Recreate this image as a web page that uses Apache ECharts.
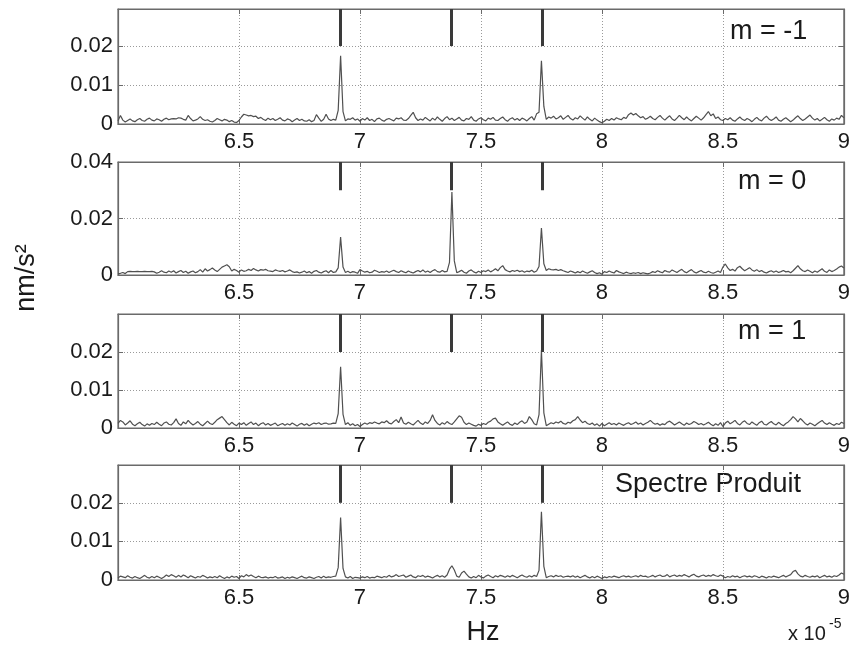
<!DOCTYPE html>
<html>
<head>
<meta charset="utf-8">
<script src="https://cdn.jsdelivr.net/npm/echarts@6/dist/echarts.min.js"></script>
<style>
html,body{margin:0;padding:0;background:#fff;}
#chart{width:853px;height:645px;}
</style>
</head>
<body>
<div id="chart"></div>
<script>
// Frequency grid (units of 1e-5 Hz): sampling from 6.00 in steps of 0.01 (301 samples)
const freqStart = 6.0;
const freqStep = 0.01;

// Amplitudes in units of 1e-3 nm/s^2
const specMminus1 = [
0.8,2.2,1.0,0.5,0.9,1.3,0.8,0.6,1.1,1.4,
0.9,0.7,1.2,1.5,1.0,0.8,1.3,1.1,0.7,1.2,
1.5,1.1,1.3,1.4,1.3,1.6,1.5,1.2,1.0,2.2,
1.4,0.8,1.0,1.3,1.9,1.2,0.9,1.1,0.7,0.5,
0.9,1.4,1.1,0.8,1.2,1.0,0.6,0.9,0.5,0.4,
0.9,1.8,2.5,2.3,2.1,2.2,1.9,2.0,1.4,1.7,
1.2,0.9,1.5,1.1,1.4,0.9,1.2,1.6,1.0,0.8,
1.3,1.1,0.6,1.0,1.4,0.9,1.2,0.8,0.7,1.1,
0.6,0.9,2.4,1.5,0.7,1.2,2.5,1.3,0.9,1.2,
1.0,3.5,17.5,3.2,0.8,1.3,1.2,1.6,1.0,1.3,
0.7,1.4,1.0,1.6,0.9,1.2,0.6,1.3,1.5,1.0,
0.7,1.2,1.4,1.1,0.8,1.5,1.3,1.6,1.0,0.9,
1.4,2.2,3.0,1.6,0.9,1.3,1.0,1.7,1.2,0.8,
1.5,1.0,1.8,1.2,0.7,1.4,1.9,1.1,1.5,0.9,
1.3,1.7,1.0,0.8,1.4,1.2,1.9,1.0,0.7,1.3,
1.6,1.1,0.8,1.5,1.2,1.7,1.0,0.9,1.4,1.8,
1.1,0.7,1.3,1.6,1.0,1.4,0.9,1.5,1.2,0.8,
1.4,1.9,1.0,2.6,3.0,16.2,4.5,1.2,1.8,1.5,
2.0,1.3,1.6,2.1,1.2,1.7,2.2,1.4,1.0,1.6,
1.3,2.1,1.5,1.0,1.8,1.2,0.8,1.5,1.0,0.6,
0.3,0.7,1.2,0.9,1.4,1.0,1.6,1.3,1.1,1.7,
1.4,2.4,2.8,2.3,2.7,2.1,1.6,1.9,1.2,1.5,
2.0,1.4,1.1,1.7,2.2,1.5,1.0,1.6,2.1,1.3,
0.9,1.5,2.2,1.6,1.1,1.8,1.2,0.8,1.4,2.0,
1.5,1.0,1.6,2.4,3.2,2.1,2.6,1.4,1.8,1.1,
0.9,1.4,1.1,1.6,1.0,0.7,1.3,1.8,1.2,0.9,
1.4,1.1,0.6,1.2,1.7,1.1,0.8,1.5,2.0,1.3,
0.9,1.3,1.8,1.0,0.7,1.2,1.6,1.1,0.6,1.0,
1.6,2.1,1.4,0.9,1.3,1.8,2.3,1.5,1.0,1.4,
0.8,1.2,1.7,1.1,0.7,1.3,1.0,1.5,1.2,2.2,
1.6];

const specM0 = [
0.4,0.6,0.9,0.5,1.2,1.3,1.2,1.2,1.3,1.2,
1.2,1.3,1.2,1.2,1.3,1.1,0.6,1.0,1.5,1.0,
0.8,1.4,1.0,1.5,0.7,1.2,1.6,0.9,1.3,0.6,
1.1,1.4,0.8,1.2,1.9,1.0,2.2,1.4,1.9,2.5,
1.8,1.2,2.0,2.8,3.2,3.6,2.9,1.4,2.0,1.6,
1.0,1.8,1.3,1.5,2.0,1.6,2.3,1.8,1.4,1.9,
1.7,2.0,1.5,1.4,1.2,1.8,1.5,1.3,1.6,1.1,
1.4,1.8,1.2,0.9,1.1,0.7,1.0,1.4,0.8,1.2,
0.6,1.3,1.6,1.0,0.7,1.2,1.5,0.8,1.6,0.9,
1.1,2.5,13.4,2.8,0.9,1.3,0.8,1.2,1.0,0.6,
1.9,1.4,1.0,1.3,0.8,1.0,1.7,1.3,0.9,1.2,
1.0,1.4,0.9,1.3,1.7,1.2,0.9,1.5,1.1,0.8,
1.4,1.0,0.7,1.2,1.6,1.1,1.8,1.0,1.4,0.9,
1.5,1.9,1.2,1.0,1.6,1.1,1.3,4.5,29.4,5.0,
0.8,1.2,1.7,1.0,0.6,1.4,1.8,1.1,0.7,1.3,
0.9,1.5,1.2,1.8,1.1,1.6,2.2,1.5,2.6,3.3,
1.9,1.4,1.1,1.6,1.3,1.7,1.2,1.5,1.0,1.4,
1.2,1.7,1.0,1.4,3.0,16.6,4.0,1.6,2.2,1.9,
1.8,2.0,1.6,1.9,1.5,1.2,0.9,1.4,1.1,0.7,
1.2,0.8,1.4,1.0,0.6,1.1,1.5,0.9,0.5,0.8,
0.3,1.2,0.9,1.4,1.0,0.7,1.6,1.1,0.8,0.5,
1.0,0.7,0.5,0.8,0.6,0.9,0.5,0.8,0.6,0.4,
0.7,1.2,0.9,1.5,1.1,0.8,1.6,1.2,1.0,1.8,
1.3,0.9,1.5,2.0,1.2,0.8,1.4,1.9,1.1,0.7,
1.2,1.6,1.0,0.8,1.3,0.9,0.6,1.0,1.4,0.9,
2.8,3.9,2.5,1.6,2.0,1.4,2.6,3.1,2.2,1.5,
2.0,2.6,1.8,1.3,1.9,1.2,1.6,1.0,0.7,1.2,
1.5,1.0,1.4,0.9,1.2,1.6,1.1,1.3,0.8,1.5,
2.4,3.3,2.2,1.5,1.2,1.8,1.3,0.8,1.4,1.0,
1.6,2.2,1.3,0.9,1.8,1.2,1.6,2.1,2.8,3.2,
2.5];

const specM1 = [
1.2,2.0,1.6,0.8,1.3,1.9,1.0,0.6,1.1,1.5,
0.9,0.5,1.1,0.7,1.2,0.9,1.5,1.0,0.6,1.3,
1.6,1.0,0.8,1.4,2.4,1.2,0.7,1.6,1.1,2.0,
1.3,0.8,1.2,1.7,1.0,0.6,1.2,1.8,1.2,0.9,
1.5,2.2,2.6,3.0,2.2,1.4,0.8,1.5,1.0,0.6,
1.3,0.9,1.4,0.7,1.2,1.6,0.9,1.3,0.6,1.1,
1.4,0.8,1.2,0.7,1.0,1.3,0.6,0.9,1.2,0.7,
1.1,0.8,1.3,0.9,0.5,1.0,1.2,0.7,1.1,0.6,
1.0,1.3,1.1,1.4,0.9,1.2,1.3,1.0,1.1,1.3,
1.2,3.8,16.1,3.6,0.9,1.4,0.7,1.1,0.6,0.9,
0.4,0.9,1.3,1.0,1.4,1.2,1.6,1.3,1.1,1.6,
1.4,1.9,1.3,1.1,1.7,2.2,1.4,2.9,1.3,1.0,
1.5,1.1,0.8,1.4,2.0,1.3,0.9,1.6,1.2,2.0,
3.5,2.0,1.2,0.8,1.4,1.0,1.7,1.2,0.9,1.6,
2.4,3.2,2.8,1.5,0.9,1.3,1.0,0.7,0.5,1.0,
0.7,1.2,0.9,1.5,1.8,2.4,2.6,1.6,1.1,0.7,
1.2,1.6,1.0,0.7,1.3,0.9,1.5,1.9,1.2,1.6,
3.0,2.2,1.1,0.8,3.5,20.5,4.0,0.6,1.0,1.4,
1.1,1.6,1.3,1.8,1.2,1.0,1.5,1.3,1.9,2.2,
3.0,2.1,1.4,1.8,1.2,0.9,1.3,0.7,1.1,0.5,
1.2,0.6,1.0,1.4,0.9,1.2,0.8,1.3,1.0,0.7,
1.1,1.4,0.9,1.2,1.6,1.0,1.3,0.8,1.2,1.5,
2.0,1.4,1.0,1.2,0.7,1.1,0.9,1.5,1.8,1.3,
0.8,1.2,1.6,1.1,0.7,1.3,0.9,1.2,1.7,1.4,
0.9,1.2,0.8,1.1,1.5,1.0,0.6,1.1,0.7,1.4,
0.4,1.3,1.8,1.1,1.5,2.0,1.2,0.8,1.5,1.9,
1.2,0.9,1.6,1.1,0.7,1.4,1.8,1.0,0.8,1.3,
1.7,1.1,0.8,1.5,1.0,0.6,1.2,1.6,2.2,3.0,
2.4,1.6,2.5,1.9,1.2,0.8,1.3,1.0,0.6,1.1,
1.6,2.0,1.3,0.9,1.4,1.0,0.7,1.2,0.9,1.5,
1.2];

const specProduit = [
0.5,1.0,0.8,0.6,1.1,0.7,0.5,0.9,0.6,0.4,
0.8,1.2,0.7,0.5,0.9,0.6,1.0,0.7,0.4,0.8,
1.3,0.9,1.4,1.1,0.7,1.2,0.8,1.3,1.0,0.6,
1.1,0.8,0.5,0.9,0.7,1.2,0.9,0.5,0.8,0.6,
0.9,0.6,1.1,0.7,0.4,0.8,0.5,1.0,0.7,0.9,
0.4,1.1,0.8,1.4,1.0,1.3,0.9,0.6,1.0,0.7,
0.6,0.8,0.5,0.7,0.6,0.9,0.5,0.6,0.8,0.4,
0.7,0.5,0.8,0.6,0.4,0.7,1.0,0.6,0.5,0.8,
0.6,0.4,0.7,0.9,0.5,1.0,0.6,0.8,0.7,0.9,
1.0,3.2,16.2,3.0,0.8,0.5,0.9,0.4,0.7,0.6,
0.5,0.8,0.6,0.9,0.5,0.7,0.6,1.0,0.8,0.6,
0.9,0.7,1.2,0.8,1.0,1.4,0.9,1.1,1.3,0.7,
1.0,1.3,0.8,0.6,1.1,0.9,1.2,0.7,1.0,0.8,
0.5,0.9,1.2,0.8,1.1,0.7,1.3,2.8,3.7,2.6,
1.0,0.7,1.8,2.3,1.5,0.8,0.5,0.9,0.6,1.2,
0.8,0.5,1.0,1.3,0.9,0.6,1.1,0.8,1.2,1.0,
0.7,1.1,0.8,1.2,0.9,0.6,1.0,1.3,0.9,0.7,
1.1,0.8,1.2,0.9,2.5,17.7,3.5,0.6,0.9,1.1,
0.8,1.2,0.9,1.1,0.7,0.9,1.0,0.8,1.1,0.7,
1.0,0.6,0.9,1.2,0.8,0.5,0.9,0.6,1.0,0.7,
0.4,0.8,0.6,0.9,0.7,1.0,0.8,0.6,0.9,1.1,
0.8,1.0,0.7,0.9,1.1,0.8,1.2,0.9,1.0,0.7,
0.9,1.2,0.8,1.1,1.3,0.9,1.0,1.4,0.8,1.1,
1.3,0.9,1.2,1.0,1.4,1.1,0.8,1.2,1.5,1.0,
0.8,1.1,1.3,0.9,1.2,1.0,1.4,1.1,0.9,1.3,
1.0,0.6,0.9,0.7,1.1,0.8,1.0,0.6,0.9,1.1,
0.8,1.0,0.7,1.1,0.9,0.6,1.0,0.8,0.5,0.9,
0.7,1.0,0.8,0.6,0.9,1.2,0.8,1.1,1.4,2.2,
2.5,1.6,1.0,0.8,1.2,0.9,0.7,1.0,0.8,1.1,
0.6,0.9,1.2,0.8,1.0,0.7,1.1,0.9,1.3,1.8,
1.5];

const panelSeries = [specMminus1, specM0, specM1, specProduit];
const panelTitles = ['m = -1', 'm = 0', 'm = 1', 'Spectre Produit'];
const xTickLabels = ['6.5', '7', '7.5', '8', '8.5', '9'];
const yMaxes = [29.5, 40, 30, 29.8];       // 1e-3 nm/s^2
const yIntervals = [10, 20, 10, 10];
const markerFreqs = [6.917, 7.376, 7.755];  // 1e-5 Hz
const markerSpans = [[20, 29.5], [30, 40], [20, 30], [20, 29.8]];

// Layout
const gridTops = [9, 162, 314, 465];
const gridHeights = [115, 113, 114, 115];
const gridLeft = 118, gridRight = 9;
const titleLeft = [730, 738, 738, 615];
const titleMidY = [33, 183, 333, 486];

const fontFam = '"Liberation Sans", Arial, sans-serif';
const textColor = '#1a1a1a';
const axisColor = '#6a6a6a';

const grids = [], xAxes = [], yAxes = [], series = [], graphics = [];

panelSeries.forEach((vals, p) => {
  grids.push({
    left: gridLeft, right: gridRight, top: gridTops[p], height: gridHeights[p],
    show: true, borderColor: axisColor, borderWidth: 1.2, backgroundColor: '#fff'
  });
  // bottom x axis
  xAxes.push({
    type: 'value', gridIndex: p, min: 6, max: 9, interval: 0.5, position: 'bottom',
    axisLine: { show: true, onZero: false, lineStyle: { color: axisColor, width: 1.2 } },
    axisTick: { show: true, inside: true, length: 5, lineStyle: { color: axisColor } },
    splitLine: { show: true, lineStyle: { color: '#9a9a9a', type: [1, 2], width: 1 } },
    axisLabel: {
      show: true, margin: 7, color: textColor, fontSize: 22, fontFamily: fontFam,
      showMinLabel: false, showMaxLabel: true,
      formatter: v => { const s = (Math.round(v * 10) / 10).toString(); return xTickLabels.indexOf(s) >= 0 ? s : ''; }
    }
  });
  // top x axis (box ticks)
  xAxes.push({
    type: 'value', gridIndex: p, min: 6, max: 9, interval: 0.5, position: 'top',
    axisLine: { show: true, onZero: false, lineStyle: { color: axisColor, width: 1.2 } },
    axisTick: { show: true, inside: true, length: 5, lineStyle: { color: axisColor } },
    splitLine: { show: false }, axisLabel: { show: false }
  });
  // left y axis
  yAxes.push({
    type: 'value', gridIndex: p, min: 0, max: yMaxes[p], interval: yIntervals[p], position: 'left',
    axisLine: { show: true, onZero: false, lineStyle: { color: axisColor, width: 1.2 } },
    axisTick: { show: true, inside: true, length: 5, lineStyle: { color: axisColor } },
    splitLine: { show: true, lineStyle: { color: '#9a9a9a', type: [1, 2], width: 1 } },
    axisLabel: {
      show: true, margin: 5, color: textColor, fontSize: 22, fontFamily: fontFam,
      showMaxLabel: p === 1,
      formatter: v => v === 0 ? '0' : (Math.round(v) / 1000).toString()
    }
  });
  // right y axis (box ticks)
  yAxes.push({
    type: 'value', gridIndex: p, min: 0, max: yMaxes[p], interval: yIntervals[p], position: 'right',
    axisLine: { show: true, onZero: false, lineStyle: { color: axisColor, width: 1.2 } },
    axisTick: { show: true, inside: true, length: 5, lineStyle: { color: axisColor } },
    splitLine: { show: false }, axisLabel: { show: false }
  });

  const data = vals.map((v, i) => [+(freqStart + i * freqStep).toFixed(2), v]);
  const span = markerSpans[p];
  series.push({
    type: 'line', xAxisIndex: 2 * p, yAxisIndex: 2 * p, data: data,
    symbol: 'none', silent: true, animation: false,
    lineStyle: { color: '#505050', width: 1.2 },
    z: 3,
    markLine: {
      silent: true, symbol: ['none', 'none'], animation: false,
      label: { show: false },
      lineStyle: { color: '#3a3a3a', width: 3, type: 'solid' },
      data: markerFreqs.map(f => [{ coord: [f, span[0]] }, { coord: [f, span[1]] }])
    }
  });

  graphics.push({
    type: 'text', left: titleLeft[p], top: titleMidY[p] - 15,
    style: { text: panelTitles[p], fill: textColor, font: '27px ' + fontFam }
  });
});

graphics.push({
  type: 'text', x: 27, y: 278, rotation: Math.PI / 2,
  style: { text: 'nm/s²', fill: textColor, font: '27px ' + fontFam, align: 'center', verticalAlign: 'middle' }
});
graphics.push({
  type: 'text', x: 483, y: 633,
  style: { text: 'Hz', fill: textColor, font: '27px ' + fontFam, align: 'center', verticalAlign: 'middle' }
});
graphics.push({
  type: 'text', x: 788, y: 634,
  style: { text: 'x 10', fill: textColor, font: '20px ' + fontFam, align: 'left', verticalAlign: 'middle' }
});
graphics.push({
  type: 'text', x: 829, y: 624,
  style: { text: '-5', fill: textColor, font: '14px ' + fontFam, align: 'left', verticalAlign: 'middle' }
});

const chart = echarts.init(document.getElementById('chart'), null, { renderer: 'canvas' });
chart.setOption({
  backgroundColor: '#ffffff',
  animation: false,
  grid: grids,
  xAxis: xAxes,
  yAxis: yAxes,
  series: series,
  graphic: graphics
});
</script>
</body>
</html>
